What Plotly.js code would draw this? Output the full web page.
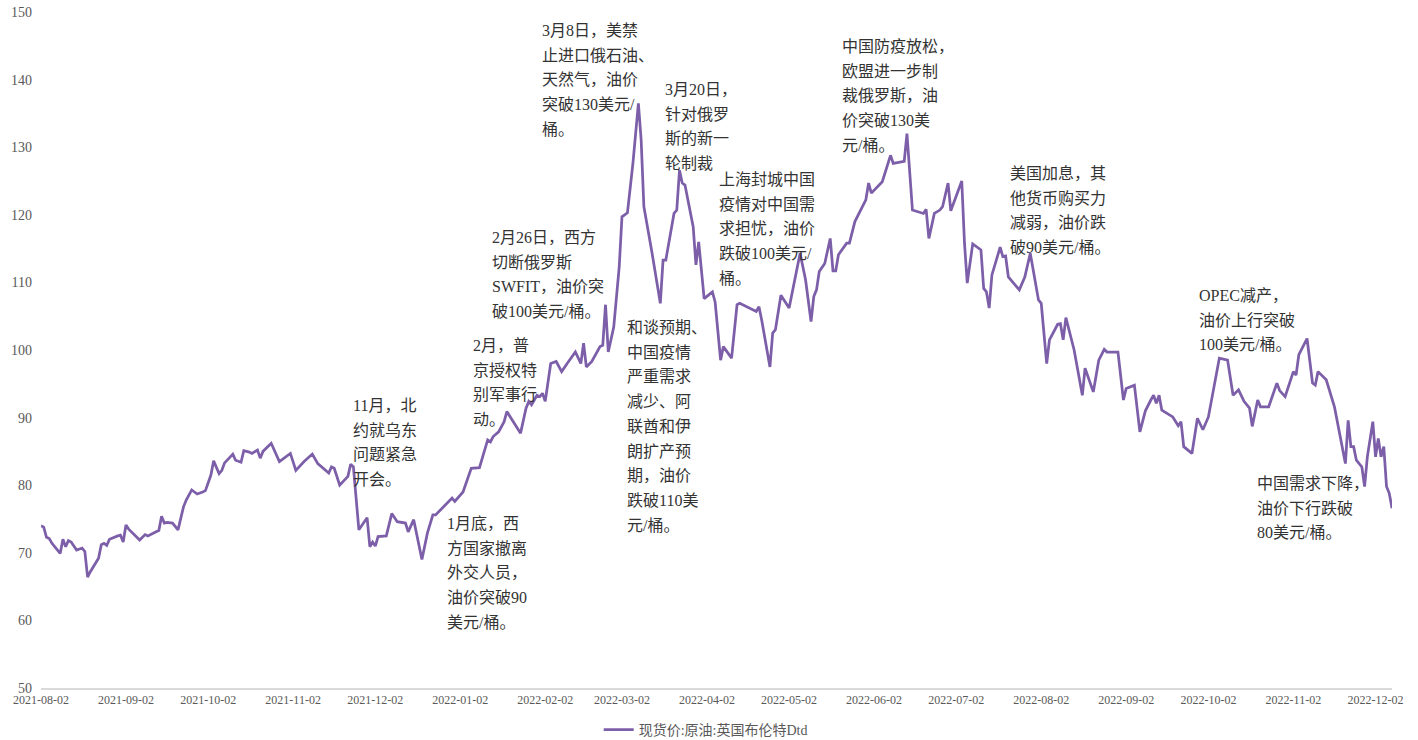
<!DOCTYPE html>
<html>
<head>
<meta charset="utf-8">
<script src="https://cdn.plot.ly/plotly-3.0.1.min.js"></script>
<style>html,body{margin:0;padding:0;background:#fff;}#chart{width:1418px;height:740px;}</style>
</head>
<body>
<div id="chart"></div>
<script>
// Series: 现货价:原油:英国布伦特Dtd (美元/桶)
const dates = [
"2021-08-02","2021-08-03","2021-08-04","2021-08-05","2021-08-06","2021-08-09","2021-08-10","2021-08-11","2021-08-12","2021-08-13",
"2021-08-15","2021-08-17","2021-08-18","2021-08-19","2021-08-20","2021-08-23","2021-08-24","2021-08-25","2021-08-26","2021-08-27",
"2021-08-30","2021-08-31","2021-09-01","2021-09-02","2021-09-03","2021-09-07","2021-09-09","2021-09-10","2021-09-13","2021-09-14",
"2021-09-15","2021-09-16","2021-09-17","2021-09-19","2021-09-21","2021-09-23","2021-09-24","2021-09-26","2021-09-28","2021-09-29",
"2021-09-30","2021-10-01","2021-10-03","2021-10-04","2021-10-06","2021-10-07","2021-10-08","2021-10-11","2021-10-12","2021-10-14",
"2021-10-15","2021-10-17","2021-10-18","2021-10-20","2021-10-21","2021-10-22","2021-10-24","2021-10-25","2021-10-28","2021-11-01",
"2021-11-03","2021-11-06","2021-11-09","2021-11-11","2021-11-15","2021-11-16","2021-11-17","2021-11-19","2021-11-22","2021-11-23",
"2021-11-24","2021-11-26","2021-11-29","2021-11-30","2021-12-01","2021-12-02","2021-12-03","2021-12-06","2021-12-08","2021-12-10",
"2021-12-13","2021-12-14","2021-12-16","2021-12-17","2021-12-19","2021-12-21","2021-12-23","2021-12-24","2021-12-30","2021-12-31",
"2022-01-03","2022-01-06","2022-01-09","2022-01-12","2022-01-13","2022-01-14","2022-01-16","2022-01-18","2022-01-19","2022-01-21",
"2022-01-24","2022-01-26","2022-01-27","2022-01-28","2022-01-30","2022-01-31","2022-02-01","2022-02-02","2022-02-04","2022-02-06",
"2022-02-08","2022-02-10","2022-02-13","2022-02-15","2022-02-16","2022-02-17","2022-02-19","2022-02-22","2022-02-23","2022-02-24",
"2022-02-25","2022-02-27","2022-03-01","2022-03-02","2022-03-04","2022-03-06","2022-03-08","2022-03-09","2022-03-10","2022-03-13",
"2022-03-16","2022-03-17","2022-03-18","2022-03-21","2022-03-22","2022-03-23","2022-03-24","2022-03-25","2022-03-28","2022-03-29",
"2022-03-30","2022-04-01","2022-04-04","2022-04-05","2022-04-07","2022-04-08","2022-04-11","2022-04-13","2022-04-14","2022-04-20",
"2022-04-21","2022-04-22","2022-04-25","2022-04-26","2022-04-27","2022-04-29","2022-05-02","2022-05-06","2022-05-08","2022-05-10",
"2022-05-11","2022-05-12","2022-05-13","2022-05-15","2022-05-17","2022-05-18","2022-05-19","2022-05-20","2022-05-23","2022-05-24",
"2022-05-26","2022-05-30","2022-05-31","2022-06-01","2022-06-05","2022-06-08","2022-06-09","2022-06-13","2022-06-14","2022-06-16",
"2022-06-20","2022-06-21","2022-06-22","2022-06-24","2022-06-26","2022-06-27","2022-06-29","2022-06-30","2022-07-04","2022-07-05",
"2022-07-06","2022-07-08","2022-07-11","2022-07-12","2022-07-13","2022-07-14","2022-07-15","2022-07-18","2022-07-19","2022-07-20",
"2022-07-21","2022-07-25","2022-07-27","2022-07-29","2022-08-01","2022-08-02","2022-08-04","2022-08-05","2022-08-08","2022-08-09",
"2022-08-10","2022-08-11","2022-08-14","2022-08-17","2022-08-18","2022-08-21","2022-08-23","2022-08-25","2022-08-26","2022-08-30",
"2022-09-01","2022-09-02","2022-09-05","2022-09-07","2022-09-09","2022-09-11","2022-09-12","2022-09-13","2022-09-14","2022-09-15",
"2022-09-19","2022-09-21","2022-09-22","2022-09-23","2022-09-26","2022-09-28","2022-09-30","2022-10-02","2022-10-04","2022-10-05",
"2022-10-06","2022-10-09","2022-10-11","2022-10-13","2022-10-15","2022-10-17","2022-10-18","2022-10-20","2022-10-21","2022-10-24",
"2022-10-27","2022-10-28","2022-10-30","2022-11-02","2022-11-03","2022-11-04","2022-11-07","2022-11-09","2022-11-10","2022-11-11",
"2022-11-14","2022-11-17","2022-11-19","2022-11-21","2022-11-22","2022-11-23","2022-11-24","2022-11-25","2022-11-27","2022-11-28",
"2022-11-29","2022-11-30","2022-12-01","2022-12-02","2022-12-03","2022-12-04","2022-12-05","2022-12-06","2022-12-07","2022-12-08"
];
const brentDtd = [
74.0,73.8,72.3,72.1,71.4,69.9,72.0,70.9,71.8,71.6,
70.4,70.7,70.2,66.4,67.2,69.2,71.2,71.4,71.1,72.0,
72.5,72.6,71.6,74.1,73.5,71.9,72.7,72.5,73.1,73.3,
75.4,74.4,74.5,74.4,73.4,76.8,77.8,79.3,78.7,78.8,
79.0,79.2,81.5,83.6,81.7,82.2,83.3,84.6,83.7,83.4,
85.1,84.9,84.7,85.2,84.0,85.0,85.9,86.2,83.5,84.7,
82.2,83.5,84.6,83.2,81.8,82.7,82.5,80.0,81.3,83.1,
82.7,73.4,75.2,70.9,71.6,71.0,72.4,72.5,75.8,74.6,
74.4,73.1,74.9,72.9,69.0,72.9,75.6,75.6,78.1,77.6,
79.0,82.5,82.6,86.7,86.4,87.2,87.9,89.4,90.9,89.6,
87.7,91.4,92.4,91.9,93.3,93.1,93.6,92.4,98.0,98.3,
96.8,98.0,99.7,98.0,101.0,97.5,98.3,100.5,100.7,106.7,
99.7,103.4,112.3,119.7,120.3,127.6,136.5,131.1,121.2,114.3,
106.9,113.3,113.3,120.2,120.7,126.6,124.7,124.4,118.2,112.6,
116.0,107.6,108.6,107.1,98.5,100.5,98.8,106.7,106.9,105.7,
106.4,104.4,97.5,102.5,103.0,108.1,106.2,114.3,110.4,104.2,
107.9,108.9,111.6,112.8,116.5,111.7,111.7,114.1,115.8,115.8,
119.0,122.2,124.7,123.2,124.9,128.8,127.6,127.9,132.0,120.7,
120.2,120.8,116.5,120.2,120.7,121.2,124.7,120.6,125.0,115.8,
109.9,115.7,114.8,109.1,108.6,106.2,111.1,115.2,113.8,113.9,
110.8,108.9,110.8,114.3,107.4,106.9,98.0,101.5,103.8,103.9,
101.5,104.8,100.0,93.3,97.3,93.8,98.5,100.1,99.7,99.7,
92.6,94.3,94.8,87.9,91.0,92.6,93.3,92.1,93.3,91.1,
90.1,88.8,89.4,85.7,84.7,89.9,88.2,90.1,94.6,96.3,
98.8,98.5,93.3,94.1,92.4,91.4,88.7,92.6,91.6,91.6,
95.1,94.0,93.1,96.8,96.3,99.3,101.7,95.1,94.8,96.8,
95.6,91.6,87.2,83.2,89.6,85.7,85.7,83.7,82.7,79.8,
84.2,86.7,89.4,84.2,86.9,84.2,85.7,79.8,78.8,76.6
];
const seriesName = "现货价:原油:英国布伦特Dtd";
const xTickLabels = ["2021-08-02","2021-09-02","2021-10-02","2021-11-02","2021-12-02","2022-01-02","2022-02-02","2022-03-02","2022-04-02","2022-05-02","2022-06-02","2022-07-02","2022-08-02","2022-09-02","2022-10-02","2022-11-02","2022-12-02"];
const yTickValues = [50,60,70,80,90,100,110,120,130,140,150];

// Event notes: anchor date, anchor price level, text lines
const noteDates = ["2021-11-23","2021-12-27 12:00","2022-01-06","2022-01-13","2022-01-31","2022-03-17","2022-03-03","2022-04-05 12:00","2022-05-20 12:00","2022-07-21","2022-09-28","2022-10-19"];
const noteLevels = [86.3,67.0,95.2,111.1,139.9,133.0,88.7,117.9,137.6,120.7,104.5,76.6];
const noteLines = [
  ["11月，北","约就乌东","问题紧急","开会。"],
  ["1月底，西","方国家撤离","外交人员，","油价突破90","美元/桶。"],
  ["2月，普","京授权特","别军事行","动。"],
  ["2月26日，西方","切断俄罗斯","SWFIT，油价突","破100美元/桶。"],
  ["3月8日，美禁","止进口俄石油、","天然气，油价","突破130美元/","桶。"],
  ["3月20日，","针对俄罗","斯的新一","轮制裁"],
  ["和谈预期、","中国疫情","严重需求","减少、阿","联酋和伊","朗扩产预","期，油价","跌破110美","元/桶。"],
  ["上海封城中国","疫情对中国需","求担忧，油价","跌破100美元/","桶。"],
  ["中国防疫放松，","欧盟进一步制","裁俄罗斯，油","价突破130美","元/桶。"],
  ["美国加息，其","他货币购买力","减弱，油价跌","破90美元/桶。"],
  ["OPEC减产，","油价上行突破","100美元/桶。"],
  ["中国需求下降，","油价下行跌破","80美元/桶。"]
];

const serifFont = '"Liberation Serif", "Noto Sans CJK SC", serif';
const noteFont = '"Liberation Serif", "Noto Sans CJK SC", serif';

const annotations = noteLines.map((lines, i) => ({
  x: noteDates[i], y: noteLevels[i], xref: 'x', yref: 'y',
  xanchor: 'left', yanchor: 'middle', align: 'left', showarrow: false,
  text: lines.map(l => '<span style="font-size:16px">' + l + '</span>').join('<br>'),
  font: {family: noteFont, size: 19, color: '#333333'}
}));

const trace = {
  type: 'scatter', mode: 'lines', name: seriesName,
  x: dates, y: brentDtd,
  line: {color: '#7c5fa8', width: 2.75}
};

const layout = {
  width: 1418, height: 740,
  margin: {l: 41, r: 26, t: 12, b: 52, autoexpand: false},
  paper_bgcolor: '#ffffff', plot_bgcolor: '#ffffff',
  showlegend: true,
  legend: {orientation: 'h', x: 0.492, xanchor: 'center', y: -0.062, yanchor: 'middle',
           font: {family: noteFont, size: 14, color: '#595959'}},
  xaxis: {
    type: 'date', range: ['2021-08-02', '2022-12-08'],
    tickmode: 'array', tickvals: xTickLabels, ticktext: xTickLabels,
    showgrid: false, zeroline: false, showline: true, linecolor: '#d9d9d9', linewidth: 2,
    ticks: '', tickfont: {family: serifFont, size: 12, color: '#595959'}
  },
  yaxis: {
    range: [50, 150], tickmode: 'array', tickvals: yTickValues,
    showgrid: false, zeroline: false, showline: false, ticks: '',
    ticklabelstandoff: 8,
    tickfont: {family: serifFont, size: 14, color: '#595959'}
  },
  annotations: annotations,
  hovermode: false
};

Plotly.newPlot('chart', [trace], layout, {displayModeBar: false, staticPlot: true});
</script>
</body>
</html>
